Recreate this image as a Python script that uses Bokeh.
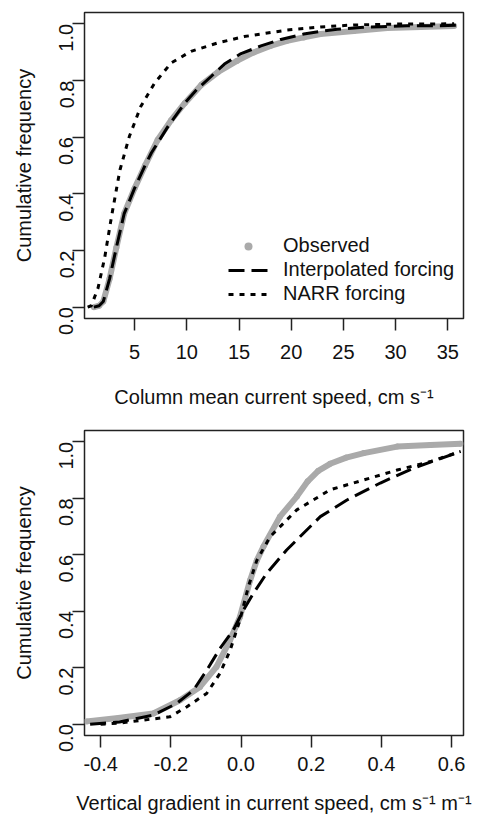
import math
from bokeh.plotting import figure
from bokeh.models import Range1d, FixedTicker, Legend, LegendItem
from bokeh.layouts import column
from bokeh.embed import file_html
from bokeh.resources import INLINE

# ---------------- data: top panel (column mean current speed) ----------------
top_obs_x = [1.1, 1.6, 2.0, 2.6, 3.25, 4.0, 5.0, 6.0, 7.2, 8.5, 9.8, 11.4, 13.0, 14.8, 16.4, 18.0, 19.6, 21.2, 22.8, 26.0, 29.2, 32.4, 35.6]
top_obs_y = [0.0, 0.005, 0.02, 0.10, 0.21, 0.33, 0.42, 0.50, 0.59, 0.66, 0.72, 0.785, 0.83, 0.869, 0.899, 0.922, 0.94, 0.952, 0.964, 0.975, 0.985, 0.989, 0.992]

top_int_x = [1.1, 1.6, 2.0, 2.6, 3.25, 4.0, 5.0, 6.0, 6.6, 8.2, 9.8, 11.0, 12.35, 13.6, 15.2, 17.1, 19.0, 21.2, 22.8, 24.4, 26.6, 28.6, 31.1, 34.0, 36.2]
top_int_y = [0.0, 0.005, 0.02, 0.10, 0.21, 0.33, 0.42, 0.50, 0.544, 0.638, 0.72, 0.77, 0.815, 0.858, 0.895, 0.922, 0.945, 0.964, 0.973, 0.981, 0.987, 0.99, 0.993, 0.993, 0.995]

top_narr_x = [0.5, 0.85, 1.5, 2.13, 2.77, 3.4, 3.6, 4.5, 5.6, 6.9, 8.5, 10.4, 13.0, 15.5, 19.6, 22.8, 26.0, 30.0, 35.6]
top_narr_y = [0.0, 0.005, 0.068, 0.174, 0.316, 0.445, 0.485, 0.603, 0.709, 0.79, 0.862, 0.903, 0.933, 0.955, 0.978, 0.989, 0.996, 0.999, 1.0]

# ---------------- data: bottom panel (vertical gradient) ----------------
bot_obs_x = [-0.44, -0.35, -0.25, -0.174, -0.117, -0.07, -0.031, -0.003, 0.026, 0.045, 0.064, 0.111, 0.159, 0.19, 0.22, 0.254, 0.30, 0.35, 0.445, 0.54, 0.626]
bot_obs_y = [0.01, 0.022, 0.038, 0.085, 0.132, 0.203, 0.298, 0.38, 0.51, 0.58, 0.629, 0.735, 0.806, 0.86, 0.897, 0.922, 0.944, 0.96, 0.983, 0.989, 0.993]

bot_int_x = [-0.43, -0.346, -0.25, -0.184, -0.136, -0.098, -0.06, -0.022, 0.007, 0.035, 0.073, 0.13, 0.226, 0.302, 0.397, 0.492, 0.626]
bot_int_y = [0.0, 0.008, 0.032, 0.073, 0.12, 0.19, 0.268, 0.333, 0.404, 0.463, 0.534, 0.617, 0.735, 0.794, 0.854, 0.907, 0.966]

bot_narr_x = [-0.40, -0.346, -0.203, -0.155, -0.098, -0.06, -0.031, -0.003, 0.021, 0.045, 0.083, 0.159, 0.254, 0.35, 0.445, 0.54, 0.626]
bot_narr_y = [0.0, 0.004, 0.026, 0.061, 0.109, 0.18, 0.262, 0.369, 0.487, 0.58, 0.664, 0.759, 0.83, 0.865, 0.9, 0.93, 0.966]

# ---------------- ticks & labels ----------------
y_ticks = [0.0, 0.2, 0.4, 0.6, 0.8, 1.0]
y_tick_labels = ["0.0", "0.2", "0.4", "0.6", "0.8", "1.0"]
top_x_ticks = [5, 10, 15, 20, 25, 30, 35]
top_x_tick_labels = ["5", "10", "15", "20", "25", "30", "35"]
bot_x_ticks = [-0.4, -0.2, 0.0, 0.2, 0.4, 0.6]
bot_x_tick_labels = ["-0.4", "-0.2", "0.0", "0.2", "0.4", "0.6"]

series_names = ["Observed", "Interpolated forcing", "NARR forcing"]
y_label = "Cumulative frequency"
top_x_label = "Column mean current speed, cm s\u207b\u00b9"
bot_x_label = "Vertical gradient in current speed, cm s\u207b\u00b9 m\u207b\u00b9"

FONT = "Liberation Sans"
FS = "20px"
LFS = "20px"
GRAY = "#aaaaaa"


def style(p, xticks, xlabels, x_std, x_lab_std):
    p.grid.visible = False
    p.outline_line_color = "#222222"
    p.outline_line_width = 1.5
    p.background_fill_color = "white"
    p.border_fill_color = "white"
    for ax in (p.xaxis[0], p.yaxis[0]):
        ax.axis_line_color = None
        ax.major_tick_out = 12
        ax.major_tick_in = 0
        ax.major_tick_line_width = 1.5
        ax.major_tick_line_color = "#222222"
        ax.minor_tick_line_color = None
        ax.major_label_text_font = FONT
        ax.major_label_text_font_size = FS
        ax.major_label_text_color = "#111111"
        ax.axis_label_text_font = FONT
        ax.axis_label_text_font_size = LFS
        ax.axis_label_text_font_style = "normal"
        ax.axis_label_text_color = "#111111"
    p.xaxis[0].ticker = FixedTicker(ticks=xticks)
    p.xaxis[0].major_label_overrides = {t: l for t, l in zip(xticks, xlabels)}
    p.xaxis[0].major_label_standoff = x_std
    p.xaxis[0].axis_label_standoff = x_lab_std
    p.yaxis[0].ticker = FixedTicker(ticks=y_ticks)
    p.yaxis[0].major_label_overrides = {t: l for t, l in zip(y_ticks, y_tick_labels)}
    p.yaxis[0].major_label_orientation = math.pi / 2
    p.yaxis[0].major_label_standoff = 6
    p.yaxis[0].axis_label_standoff = 15
    p.yaxis[0].axis_label = y_label


# ---------------- top figure ----------------
p1 = figure(frame_width=379, frame_height=306, x_range=Range1d(0.2, 36.5), y_range=Range1d(-0.04, 1.04),
            output_backend="svg", toolbar_location=None,
            min_border_left=84, min_border_right=12, min_border_top=12, min_border_bottom=103)
style(p1, top_x_ticks, top_x_tick_labels, 14, 24)
p1.xaxis[0].axis_label = top_x_label

p1.line(top_obs_x, top_obs_y, line_color=GRAY, line_width=6)
r_obs = p1.scatter(top_obs_x, top_obs_y, size=6, fill_color=GRAY, line_color=None)
r_int = p1.line(top_int_x, top_int_y, line_color="black", line_width=3, line_dash="16 7")
r_narr = p1.line(top_narr_x, top_narr_y, line_color="black", line_width=3, line_dash="5 6")

legend = Legend(items=[LegendItem(label=series_names[0], renderers=[r_obs]),
                       LegendItem(label=series_names[1], renderers=[r_int]),
                       LegendItem(label=series_names[2], renderers=[r_narr])],
                location=(144, 13), padding=0, margin=0, border_line_color=None,
                background_fill_alpha=0, glyph_width=40, glyph_height=20, label_height=20,
                spacing=1, label_standoff=15, label_text_font=FONT, label_text_font_size=FS,
                label_text_color="#111111")
p1.add_layout(legend)

# ---------------- bottom figure ----------------
p2 = figure(frame_width=379, frame_height=305, x_range=Range1d(-0.446, 0.634), y_range=Range1d(-0.04, 1.04),
            output_backend="svg", toolbar_location=None,
            min_border_left=84, min_border_right=12, min_border_top=9, min_border_bottom=70)
style(p2, bot_x_ticks, bot_x_tick_labels, 9, 18)
p2.xaxis[0].axis_label = bot_x_label

p2.line(bot_obs_x, bot_obs_y, line_color=GRAY, line_width=6)
p2.scatter(bot_obs_x, bot_obs_y, size=6, fill_color=GRAY, line_color=None)
p2.line(bot_int_x, bot_int_y, line_color="black", line_width=3, line_dash="16 7")
p2.line(bot_narr_x, bot_narr_y, line_color="black", line_width=3, line_dash="5 6")

layout = column(p1, p2, spacing=0)
open("out.html", "w").write(file_html(layout, INLINE))
